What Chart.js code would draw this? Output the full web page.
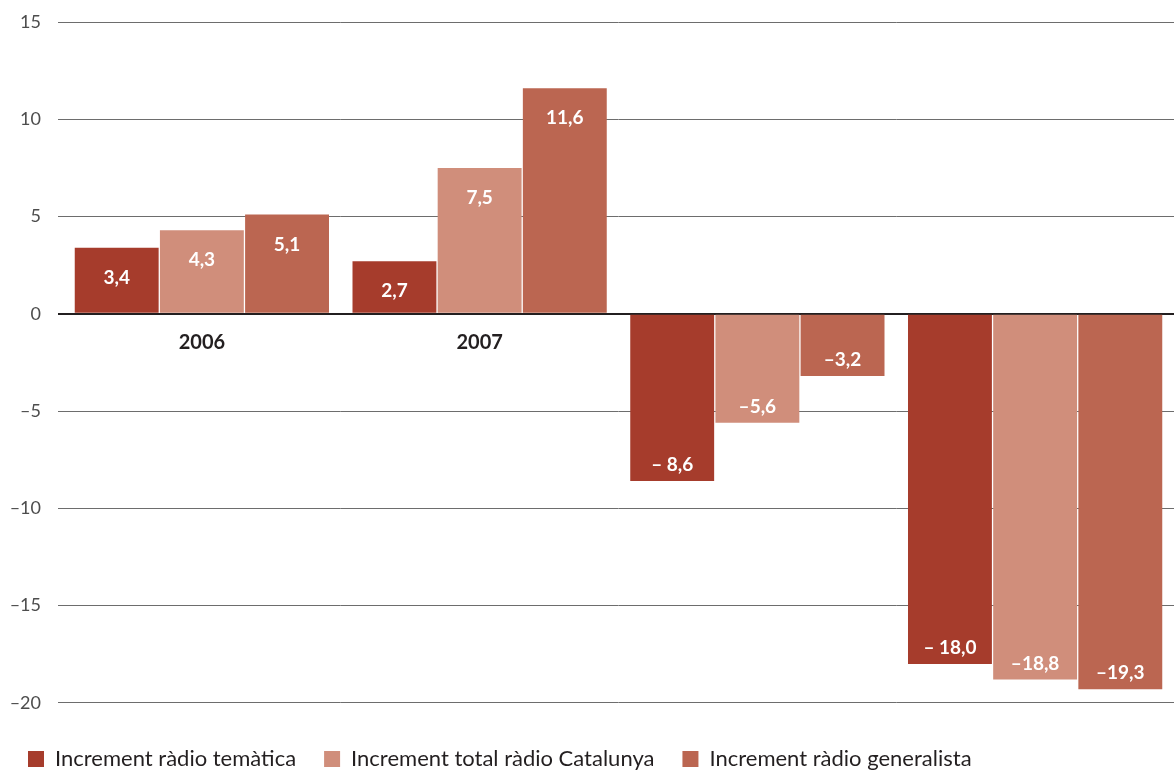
<!DOCTYPE html>
<html>
<head>
<meta charset="utf-8">
<script src="https://cdn.jsdelivr.net/npm/chart.js@4"></script>
<style>
  html, body { margin: 0; padding: 0; background: #fff; }
  #wrap { width: 1175px; height: 772px; }
</style>
</head>
<body>
<div id="wrap"><canvas id="chart"></canvas></div>
<script>
const years = ['2006', '2007', '2008', '2009'];
const tematica = [3.4, 2.7, -8.6, -18.0];
const totalCatalunya = [4.3, 7.5, -5.6, -18.8];
const generalista = [5.1, 11.6, -3.2, -19.3];
const seriesNames = ['Increment ràdio temàtica', 'Increment total ràdio Catalunya', 'Increment ràdio generalista'];
const seriesColors = ['#a63c2c', '#d08e7b', '#bb6651'];
const yMin = -20, yMax = 15, yStep = 5;

const FONT = 'Lato';

// decimal comma, en dash for negatives
function fmt(v, spaced) {
  const s = Math.abs(v).toFixed(1).replace('.', ',');
  if (v < 0) return (spaced ? '\u2013 ' : '\u2013') + s;
  return s;
}

// white value labels inside the bar ends
const valueLabels = {
  id: 'valueLabels',
  afterDatasetsDraw(chart) {
    const ctx = chart.ctx;
    ctx.save();
    ctx.font = 'bold 19px ' + FONT;
    ctx.fillStyle = '#ffffff';
    ctx.textAlign = 'center';
    ctx.textBaseline = 'middle';
    chart.data.datasets.forEach((ds, i) => {
      chart.getDatasetMeta(i).data.forEach((bar, j) => {
        const v = ds.data[j];
        const y = v >= 0 ? bar.y + 30 : bar.y - 16;
        ctx.fillText(fmt(v, i === 0), bar.x, y);
      });
    });
    ctx.restore();
  }
};

const ctx = document.getElementById('chart').getContext('2d');
new Chart(ctx, {
  type: 'bar',
  data: {
    labels: years,
    datasets: [tematica, totalCatalunya, generalista].map((d, i) => ({
      label: seriesNames[i],
      data: d,
      backgroundColor: seriesColors[i],
      borderWidth: 0,
      categoryPercentage: 0.92,
      barPercentage: 0.985
    }))
  },
  options: {
    responsive: true,
    maintainAspectRatio: false,
    animation: false,
    layout: { padding: { top: 22, right: 1, left: 0, bottom: -8 } },
    scales: {
      x: {
        position: { y: 0 },
        z: 1,
        grid: { display: false, drawTicks: false },
        border: { display: false },
        ticks: {
          padding: 17,
          color: '#231f20',
          font: { family: FONT, size: 20, weight: 'bold' }
        }
      },
      y: {
        min: yMin,
        max: yMax,
        afterFit(scale) {
          scale.width = 63;
          // let the layout padding alone decide the plot's top and bottom
          scale.paddingTop = 0;
          scale.paddingBottom = 0;
        },
        border: { display: false },
        grid: {
          color: c => c.tick && c.tick.value === 0 ? '#231f20' : '#6d6d6d',
          lineWidth: c => c.tick && c.tick.value === 0 ? 2 : 1,
          drawTicks: true,
          tickLength: 5
        },
        ticks: {
          stepSize: yStep,
          padding: 17,
          color: '#4d4d4d',
          font: { family: FONT, size: 18 },
          callback: v => (v < 0 ? '\u2013' + Math.abs(v) : String(v))
        }
      }
    },
    plugins: {
      tooltip: { enabled: false },
      legend: {
        position: 'bottom',
        align: 'start',
        // empty title only adds space between the plot and the legend row
        title: { display: true, text: '', font: { size: 1 }, padding: { top: 0, bottom: 16 } },
        labels: {
          boxWidth: 16,
          boxHeight: 16,
          padding: 28,
          color: '#231f20',
          font: { family: FONT, size: 22 }
        }
      }
    }
  },
  plugins: [valueLabels]
});
</script>
</body>
</html>
